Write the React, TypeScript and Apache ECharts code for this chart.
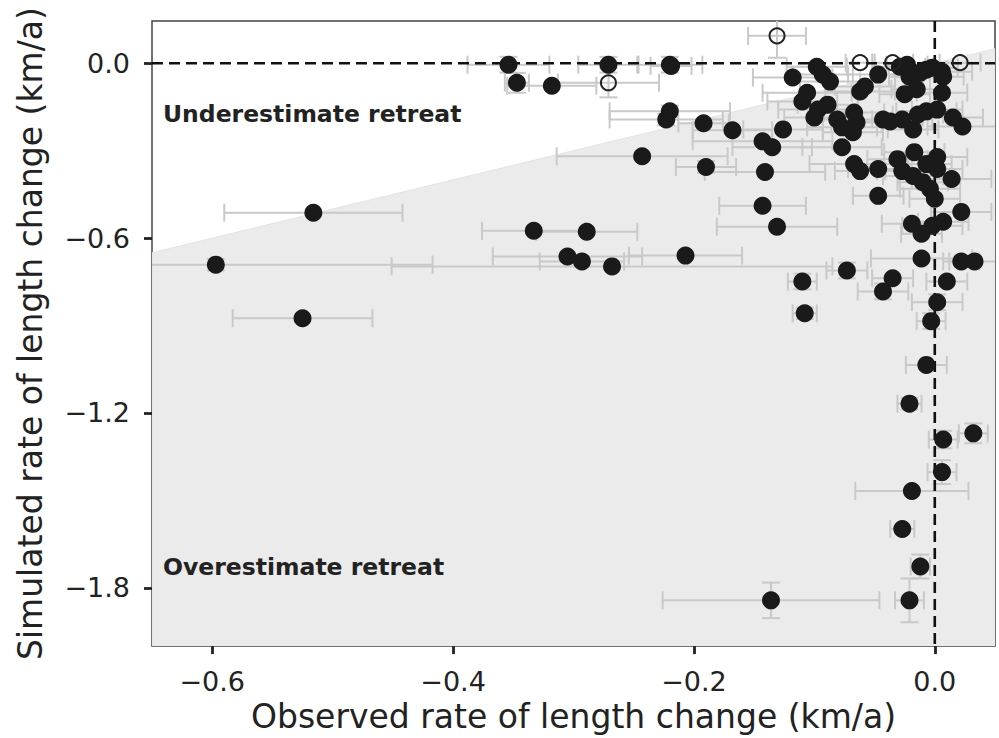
import React, { useEffect, useRef } from "react";
import * as echarts from "echarts";

// ---- axis ranges & ticks ----
const X_MIN = -0.65;
const X_MAX = 0.05;
const Y_MIN = -2.0;
const Y_MAX = 0.145;
const X_TICKS = [-0.6, -0.4, -0.2, 0.0];
const Y_TICKS = [-1.8, -1.2, -0.6, 0.0];

const X_NAME = "Observed rate of length change (km/a)";
const Y_NAME = "Simulated rate of length change (km/a)";
const LABEL_UNDER = "Underestimate retreat";
const LABEL_OVER = "Overestimate retreat";

// ---- filled points: observed (x), simulated (y), x error, y error ----
const obsFilled = [
  -0.354, -0.347, -0.318, -0.271, -0.220, -0.219,
  -0.220, -0.223, -0.192, -0.168, -0.243, -0.190, -0.143, -0.135, -0.141, -0.143, -0.131,
  -0.333, -0.289, -0.305, -0.293, -0.268, -0.207, -0.597, -0.516, -0.525, -0.126,
  -0.118, -0.098, -0.093, -0.087, -0.106, -0.110, -0.097, -0.089, -0.100, -0.081,
  -0.077, -0.068, -0.065, -0.067, -0.062, -0.058, -0.047, -0.043, -0.037, -0.077,
  -0.067, -0.062, -0.047, -0.047, -0.029, -0.023, -0.021, -0.012, -0.007, -0.002,
  0.006, 0.007, -0.025, -0.015, 0.006, -0.027, -0.018, -0.014, -0.007, 0.002,
  0.015, 0.023, -0.017, -0.031, -0.027, -0.018, -0.010, -0.004, 0.000, -0.007,
  0.002, 0.002, 0.014, 0.022, -0.019, -0.011, -0.002, 0.007, -0.073, -0.110,
  -0.108, -0.035, -0.043, -0.011, 0.022, 0.033, 0.010, 0.002, -0.003, -0.007,
  -0.021, 0.007, 0.032, 0.006, -0.019, -0.027, -0.012, -0.136, -0.021,
];
const simFilled = [
  -0.005, -0.067, -0.077, -0.005, -0.005, -0.009,
  -0.165, -0.193, -0.206, -0.230, -0.319, -0.356, -0.268, -0.288, -0.373, -0.489, -0.561,
  -0.575, -0.578, -0.663, -0.680, -0.697, -0.660, -0.691, -0.513, -0.875, -0.227,
  -0.049, -0.012, -0.039, -0.063, -0.101, -0.131, -0.159, -0.142, -0.186, -0.193,
  -0.220, -0.237, -0.203, -0.169, -0.097, -0.080, -0.039, -0.193, -0.200, -0.288,
  -0.346, -0.370, -0.363, -0.455, -0.012, -0.005, -0.046, -0.032, -0.022, -0.015,
  -0.029, -0.046, -0.106, -0.089, -0.101, -0.193, -0.227, -0.176, -0.165, -0.159,
  -0.186, -0.217, -0.305, -0.329, -0.370, -0.387, -0.408, -0.431, -0.465, -0.346,
  -0.322, -0.363, -0.397, -0.510, -0.551, -0.585, -0.558, -0.544, -0.711, -0.749,
  -0.858, -0.738, -0.783, -0.670, -0.680, -0.680, -0.749, -0.820, -0.885, -1.035,
  -1.168, -1.291, -1.270, -1.403, -1.468, -1.598, -1.727, -1.843, -1.843,
];
const xErrFilled = [
  0.034, 0.010, 0.037, 0.025, 0.027, 0.017,
  0.050, 0.047, 0.021, 0.033, 0.071, 0.025, 0.058, 0.033, 0.050, 0.036, 0.050,
  0.043, 0.042, 0.062, 0.035, 0.183, 0.047, 0.180, 0.074, 0.058, 0.033,
  0.033, 0.025, 0.025, 0.025, 0.037, 0.029, 0.033, 0.025, 0.025, 0.021,
  0.029, 0.025, 0.021, 0.025, 0.029, 0.025, 0.025, 0.029, 0.025, 0.033,
  0.037, 0.021, 0.025, 0.021, 0.021, 0.017, 0.017, 0.021, 0.017, 0.021,
  0.025, 0.017, 0.021, 0.021, 0.021, 0.025, 0.021, 0.021, 0.025, 0.021,
  0.025, 0.029, 0.025, 0.025, 0.021, 0.025, 0.021, 0.025, 0.021, 0.021,
  0.025, 0.021, 0.033, 0.025, 0.025, 0.017, 0.025, 0.021, 0.017, 0.012,
  0.010, 0.017, 0.021, 0.042, 0.015, 0.021, 0.017, 0.021, 0.012, 0.017,
  0.010, 0.012, 0.012, 0.012, 0.047, 0.010, 0.008, 0.090, 0.012,
];
const yErrFilled = [
  0.027, 0.034, 0.0, 0.027, 0.027, 0.0,
  0.020, 0.020, 0.0, 0.0, 0.0, 0.020, 0.0, 0.0, 0.0, 0.0, 0.0,
  0.0, 0.0, 0.0, 0.0, 0.0, 0.0, 0.020, 0.0, 0.0, 0.0,
  0.0, 0.0, 0.0, 0.0, 0.0, 0.0, 0.0, 0.0, 0.0, 0.0,
  0.0, 0.0, 0.0, 0.0, 0.0, 0.0, 0.0, 0.0, 0.0, 0.0,
  0.0, 0.0, 0.0, 0.0, 0.0, 0.0, 0.0, 0.0, 0.0, 0.0,
  0.0, 0.0, 0.0, 0.0, 0.0, 0.0, 0.0, 0.0, 0.0, 0.0,
  0.0, 0.0, 0.0, 0.0, 0.0, 0.0, 0.0, 0.0, 0.0, 0.0,
  0.0, 0.0, 0.0, 0.0, 0.0, 0.0, 0.0, 0.0, 0.027, 0.027,
  0.020, 0.0, 0.027, 0.0, 0.0, 0.0, 0.0, 0.027, 0.027, 0.0,
  0.020, 0.030, 0.034, 0.041, 0.0, 0.0, 0.041, 0.061, 0.075,
];

// ---- open points ----
const obsOpen = [-0.271, -0.131, -0.062, 0.021, -0.035];
const simOpen = [-0.067, 0.094, 0.002, 0.002, 0.002];
const xErrOpen = [0.042, 0.024, 0.012, 0.017, 0.017];
const yErrOpen = [0.050, 0.075, 0.0, 0.0, 0.0];

const FONT = "'DejaVu Sans', 'Noto Sans', sans-serif";
const TEXT_COLOR = "#222222";
const ERR_COLOR = "#c9c9c9";
const CAP = 9;

const fmt = (v: number) => (v < 0 ? "\u2212" : "") + Math.abs(v).toFixed(1);

function App() {
  const ref = useRef<HTMLDivElement>(null);

  useEffect(() => {
    if (!ref.current) return;
    const chart = echarts.init(ref.current, null, { renderer: "svg" });

    const filled = obsFilled.map((x, i) => [x, simFilled[i]]);
    const open = obsOpen.map((x, i) => [x, simOpen[i]]);
    const errData = [
      ...obsFilled.map((x, i) => [x, simFilled[i], xErrFilled[i], yErrFilled[i]]),
      ...obsOpen.map((x, i) => [x, simOpen[i], xErrOpen[i], yErrOpen[i]]),
    ];

    const errRender = (_p: any, api: any) => {
      const x = api.value(0);
      const y = api.value(1);
      const ex = api.value(2);
      const ey = api.value(3);
      const style = { stroke: ERR_COLOR, lineWidth: 2, fill: null };
      const children: any[] = [];
      if (ex > 0) {
        const l = api.coord([x - ex, y]);
        const r = api.coord([x + ex, y]);
        children.push({ type: "line", shape: { x1: l[0], y1: l[1], x2: r[0], y2: r[1] }, style });
        children.push({ type: "line", shape: { x1: l[0], y1: l[1] - CAP, x2: l[0], y2: l[1] + CAP }, style });
        children.push({ type: "line", shape: { x1: r[0], y1: r[1] - CAP, x2: r[0], y2: r[1] + CAP }, style });
      }
      if (ey > 0) {
        const t = api.coord([x, y + ey]);
        const b = api.coord([x, y - ey]);
        children.push({ type: "line", shape: { x1: t[0], y1: t[1], x2: b[0], y2: b[1] }, style });
        children.push({ type: "line", shape: { x1: t[0] - CAP, y1: t[1], x2: t[0] + CAP, y2: t[1] }, style });
        children.push({ type: "line", shape: { x1: b[0] - CAP, y1: b[1], x2: b[0] + CAP, y2: b[1] }, style });
      }
      return { type: "group", children };
    };

    const shadeRender = (_p: any, api: any) => {
      const p1 = api.coord([X_MIN, X_MIN]);
      const p2 = api.coord([X_MAX, X_MAX]);
      const p3 = api.coord([X_MAX, Y_MIN]);
      const p4 = api.coord([X_MIN, Y_MIN]);
      return {
        type: "polygon",
        shape: { points: [p1, p2, p3, p4] },
        style: { fill: "#ebebeb", stroke: "#e4e4e4", lineWidth: 1 },
      };
    };

    const zeroRender = (_p: any, api: any) => {
      const style = { stroke: "#111111", lineWidth: 2.6, lineDash: [11, 6], fill: null };
      const h1 = api.coord([X_MIN, 0]);
      const h2 = api.coord([X_MAX, 0]);
      const v1 = api.coord([0, Y_MAX]);
      const v2 = api.coord([0, Y_MIN]);
      return {
        type: "group",
        children: [
          { type: "line", shape: { x1: h1[0], y1: h1[1], x2: h2[0], y2: h2[1] }, style },
          { type: "line", shape: { x1: v1[0], y1: v1[1], x2: v2[0], y2: v2[1] }, style },
        ],
      };
    };

    chart.setOption({
      animation: false,
      backgroundColor: "#ffffff",
      grid: {
        left: 152,
        right: 4,
        top: 21,
        bottom: 89,
        show: true,
        borderColor: "#444444",
        borderWidth: 1.5,
        backgroundColor: "transparent",
      },
      xAxis: {
        type: "value",
        min: X_MIN,
        max: X_MAX,
        axisLine: { show: false, onZero: false },
        splitLine: { show: false },
        axisTick: {
          show: true,
          length: 8,
          lineStyle: { width: 2.8, color: TEXT_COLOR },
          customValues: X_TICKS,
        },
        axisLabel: {
          customValues: X_TICKS,
          formatter: fmt,
          fontSize: 27,
          color: TEXT_COLOR,
          fontFamily: FONT,
          margin: 22,
        },
        name: X_NAME,
        nameLocation: "middle",
        nameGap: 50,
        nameTextStyle: { fontSize: 33, color: TEXT_COLOR, fontFamily: FONT },
      },
      yAxis: {
        type: "value",
        min: Y_MIN,
        max: Y_MAX,
        axisLine: { show: false, onZero: false },
        splitLine: { show: false },
        axisTick: {
          show: true,
          length: 8,
          lineStyle: { width: 2.8, color: TEXT_COLOR },
          customValues: Y_TICKS,
        },
        axisLabel: {
          customValues: Y_TICKS,
          formatter: fmt,
          fontSize: 27,
          color: TEXT_COLOR,
          fontFamily: FONT,
          margin: 22,
        },
        name: Y_NAME,
        nameLocation: "middle",
        nameGap: 105,
        nameTextStyle: { fontSize: 33, color: TEXT_COLOR, fontFamily: FONT },
      },
      graphic: [
        {
          type: "text",
          left: 163,
          top: 102,
          z: 10,
          style: { text: LABEL_UNDER, fontSize: 23.5, fontWeight: "bold", fill: TEXT_COLOR, fontFamily: FONT },
        },
        {
          type: "text",
          left: 163,
          top: 555,
          z: 10,
          style: { text: LABEL_OVER, fontSize: 23.5, fontWeight: "bold", fill: TEXT_COLOR, fontFamily: FONT },
        },
      ],
      series: [
        {
          type: "custom",
          z: 1,
          clip: true,
          silent: true,
          renderItem: shadeRender,
          data: [[X_MIN, X_MIN]],
        },
        {
          type: "custom",
          z: 2,
          clip: true,
          silent: true,
          renderItem: errRender,
          encode: { x: 0, y: 1 },
          data: errData,
        },
        {
          type: "custom",
          z: 3,
          clip: true,
          silent: true,
          renderItem: zeroRender,
          data: [[0, 0]],
        },
        {
          type: "scatter",
          z: 4,
          symbolSize: 18,
          itemStyle: { color: "#1a1a1a", opacity: 1 },
          data: filled,
        },
        {
          type: "scatter",
          z: 4,
          symbolSize: 15,
          itemStyle: { color: "rgba(0,0,0,0)", borderColor: "#222222", borderWidth: 2, opacity: 1 },
          data: open,
        },
      ],
    });

    return () => chart.dispose();
  }, []);

  return (
    <div
      ref={ref}
      style={{ position: "fixed", left: 0, top: 0, width: 999, height: 738, background: "#fff" }}
    />
  );
}

export default App;
